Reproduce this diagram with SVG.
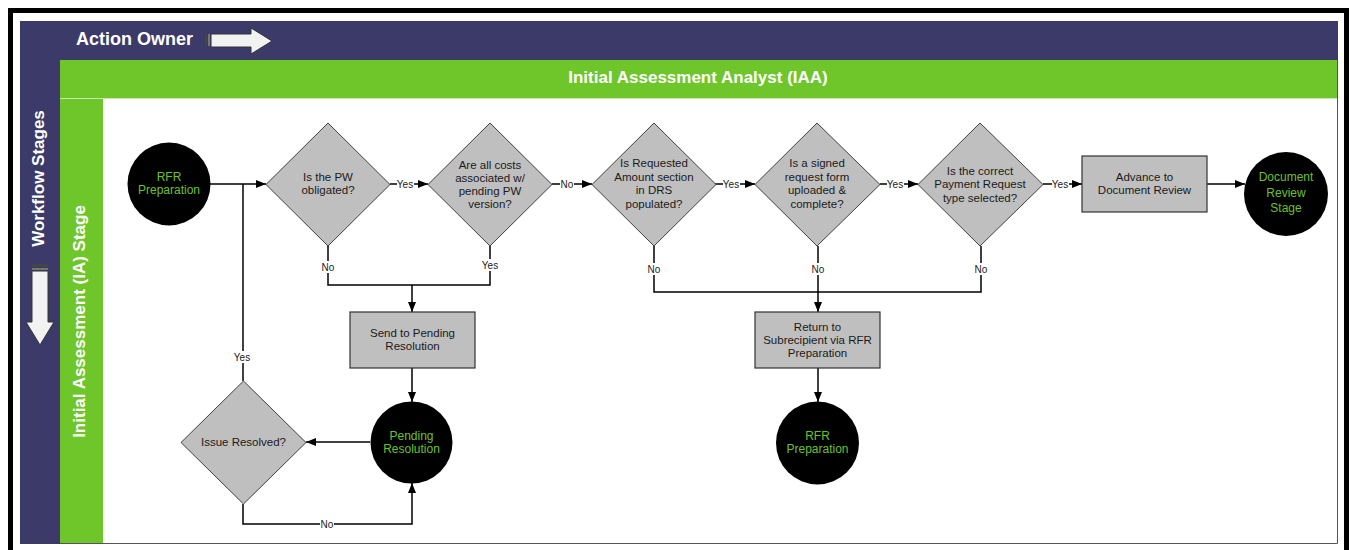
<svg xmlns="http://www.w3.org/2000/svg" width="1351" height="550" viewBox="0 0 1351 550">
<style>
.t{font-family:"Liberation Sans",Arial,sans-serif;font-size:11.5px;fill:#1a1a1a;text-anchor:middle}
.c{font-family:"Liberation Sans",Arial,sans-serif;font-size:12px;fill:#6CC02A;text-anchor:middle}
.l{font-family:"Liberation Sans",Arial,sans-serif;font-size:10px;fill:#1a1a1a;text-anchor:middle}
.h{font-family:"Liberation Sans",Arial,sans-serif;font-weight:bold;fill:#ffffff}
.d{fill:#BFBFBF;stroke:#404040;stroke-width:1}
.b{fill:#BFBFBF;stroke:#333333;stroke-width:1.2}
.o{fill:#000000}
.k{fill:none;stroke:#000000;stroke-width:1.5}
.a{marker-end:url(#ah)}
.bg{fill:#ffffff}
</style>
<defs>
<marker id="ah" viewBox="0 0 10 8" markerWidth="10" markerHeight="8" refX="10" refY="4" orient="auto" markerUnits="userSpaceOnUse">
<path d="M0,0 L10,4 L0,8 z" fill="#000000"/>
</marker>
</defs>
<rect x="0" y="0" width="1351" height="550" fill="#ffffff"/>
<rect x="10.5" y="10.5" width="1336" height="550" fill="#ffffff" stroke="#000000" stroke-width="5"/>
<g id="lanes">
<rect x="20" y="21" width="1318" height="39" fill="#3B3A69"/>
<rect x="20" y="21" width="40" height="523" fill="#3B3A69"/>
<rect x="60" y="60" width="1278" height="38" fill="#6EC62B"/>
<rect x="60" y="98" width="43" height="446" fill="#6EC62B"/>
<rect x="103" y="99" width="1234" height="444" fill="#ffffff"/>
<line x1="60" y1="98.5" x2="1337" y2="98.5" stroke="#C8E6B0" stroke-width="1"/>
<path d="M1337.5,60 V543.5 H60" fill="none" stroke="#555555" stroke-width="1"/>
<text class="h" x="76" y="45" font-size="18">Action Owner</text>
<g id="owner-arrow">
<rect x="205" y="34" width="2" height="12" fill="#444444"/>
<rect x="208" y="34" width="2" height="12" fill="#777777"/>
<polygon points="211,34 251,34 251,28 272,41 251,54 251,47 211,47" fill="#F2F2F2" stroke="#333333" stroke-width="1"/>
</g>
<text class="h" x="698" y="83" font-size="17" text-anchor="middle">Initial Assessment Analyst (IAA)</text>
<text class="h" font-size="17" text-anchor="middle" transform="translate(44,178.5) rotate(-90)">Workflow Stages</text>
<g id="stage-arrow">
<rect x="32" y="264" width="16" height="3" fill="#444444"/>
<rect x="32" y="268" width="16" height="2" fill="#777777"/>
<polygon points="32,271 48,271 48,322 54,322 40,345 26,322 32,322" fill="#F2F2F2" stroke="#333333" stroke-width="1"/>
</g>
<text class="h" font-size="17" text-anchor="middle" transform="translate(84.5,321.5) rotate(-90)">Initial Assessment (IA) Stage</text>
</g>
<g id="connectors">
<path class="k a" d="M210,184 H266"/>
<path class="k a" d="M390,184 H428"/>
<path class="k a" d="M552,184 H592"/>
<path class="k a" d="M715,184 H755"/>
<path class="k a" d="M880,184 H918"/>
<path class="k a" d="M1043,184 H1082"/>
<path class="k a" d="M1207,184 H1245"/>
<path class="k" d="M328,246 V285 H412"/>
<path class="k" d="M490,246 V285 H412"/>
<path class="k a" d="M412,285 V312"/>
<path class="k a" d="M412,368 V402"/>
<path class="k a" d="M370,442 H306"/>
<path class="k a" d="M243,504 V524 H412 V483"/>
<path class="k" d="M243,381 V184"/>
<path class="k" d="M654,246 V292 H818"/>
<path class="k" d="M981,246 V292 H818"/>
<path class="k a" d="M818,246 V312"/>
<path class="k a" d="M818,368 V402"/>
<rect class="bg" x="397" y="178" width="17" height="12"/><text class="l" x="405" y="187.5">Yes</text>
<rect class="bg" x="560" y="178" width="14" height="12"/><text class="l" x="567" y="187.5">No</text>
<rect class="bg" x="723" y="178" width="17" height="12"/><text class="l" x="731" y="187.5">Yes</text>
<rect class="bg" x="887" y="178" width="17" height="12"/><text class="l" x="895" y="187.5">Yes</text>
<rect class="bg" x="1052" y="178" width="17" height="12"/><text class="l" x="1060" y="187.5">Yes</text>
<rect class="bg" x="321" y="261" width="14" height="12"/><text class="l" x="328" y="270.5">No</text>
<rect class="bg" x="482" y="259" width="17" height="12"/><text class="l" x="490" y="268.5">Yes</text>
<rect class="bg" x="647" y="263" width="14" height="12"/><text class="l" x="654" y="272.5">No</text>
<rect class="bg" x="811" y="263" width="14" height="12"/><text class="l" x="818" y="272.5">No</text>
<rect class="bg" x="974" y="263" width="14" height="12"/><text class="l" x="981" y="272.5">No</text>
<rect class="bg" x="234" y="351" width="17" height="12"/><text class="l" x="242" y="360.5">Yes</text>
<rect class="bg" x="320" y="518" width="14" height="12"/><text class="l" x="327" y="527.5">No</text>
</g>
<g id="n-rfr-start">
<circle class="o" cx="169" cy="184" r="41.5"/>
<text class="c" x="169" y="181">RFR</text>
<text class="c" x="169" y="194">Preparation</text>
</g>
<g id="n-pw-obligated">
<polygon class="d" points="328,123 390,184.5 328,246 266,184.5"/>
<text class="t" x="328" y="181">Is the PW</text>
<text class="t" x="328" y="194">obligated?</text>
</g>
<g id="n-costs">
<polygon class="d" points="490,123 552,184.5 490,246 428,184.5"/>
<text class="t" x="490" y="169">Are all costs</text>
<text class="t" x="490" y="182">associated w/</text>
<text class="t" x="490" y="195">pending PW</text>
<text class="t" x="490" y="208">version?</text>
</g>
<g id="n-amount">
<polygon class="d" points="654,123 716,184.5 654,246 592,184.5"/>
<text class="t" x="654" y="167">Is Requested</text>
<text class="t" x="654" y="181">Amount section</text>
<text class="t" x="654" y="194">in DRS</text>
<text class="t" x="654" y="208">populated?</text>
</g>
<g id="n-signed">
<polygon class="d" points="817,123 880,184.5 817,246 755,184.5"/>
<text class="t" x="817" y="167">Is a signed</text>
<text class="t" x="817" y="181">request form</text>
<text class="t" x="817" y="194">uploaded &amp;</text>
<text class="t" x="817" y="208">complete?</text>
</g>
<g id="n-payment-type">
<polygon class="d" points="980,123 1043,184.5 980,246 918,184.5"/>
<text class="t" x="980" y="175">Is the correct</text>
<text class="t" x="980" y="188">Payment Request</text>
<text class="t" x="980" y="202">type selected?</text>
</g>
<g id="n-advance">
<rect class="b" x="1082" y="156" width="125" height="56"/>
<text class="t" x="1144.5" y="181">Advance to</text>
<text class="t" x="1144.5" y="194">Document Review</text>
</g>
<g id="n-doc-review">
<circle class="o" cx="1286" cy="194" r="42"/>
<text class="c" x="1286" y="181">Document</text>
<text class="c" x="1286" y="197">Review</text>
<text class="c" x="1286" y="212">Stage</text>
</g>
<g id="n-send-pending">
<rect class="b" x="350" y="312" width="125" height="56"/>
<text class="t" x="412.5" y="337">Send to Pending</text>
<text class="t" x="412.5" y="350">Resolution</text>
</g>
<g id="n-pending">
<circle class="o" cx="411.5" cy="442.5" r="41"/>
<text class="c" x="411.5" y="440">Pending</text>
<text class="c" x="411.5" y="453">Resolution</text>
</g>
<g id="n-issue-resolved">
<polygon class="d" points="243.5,381 306,442.5 243.5,504 181,442.5"/>
<text class="t" x="243.5" y="446">Issue Resolved?</text>
</g>
<g id="n-return">
<rect class="b" x="755" y="312" width="125" height="56"/>
<text class="t" x="817.5" y="331">Return to</text>
<text class="t" x="817.5" y="344">Subrecipient via RFR</text>
<text class="t" x="817.5" y="357">Preparation</text>
</g>
<g id="n-rfr-end">
<circle class="o" cx="817.5" cy="443" r="41.5"/>
<text class="c" x="817.5" y="440">RFR</text>
<text class="c" x="817.5" y="453">Preparation</text>
</g>
</svg>
